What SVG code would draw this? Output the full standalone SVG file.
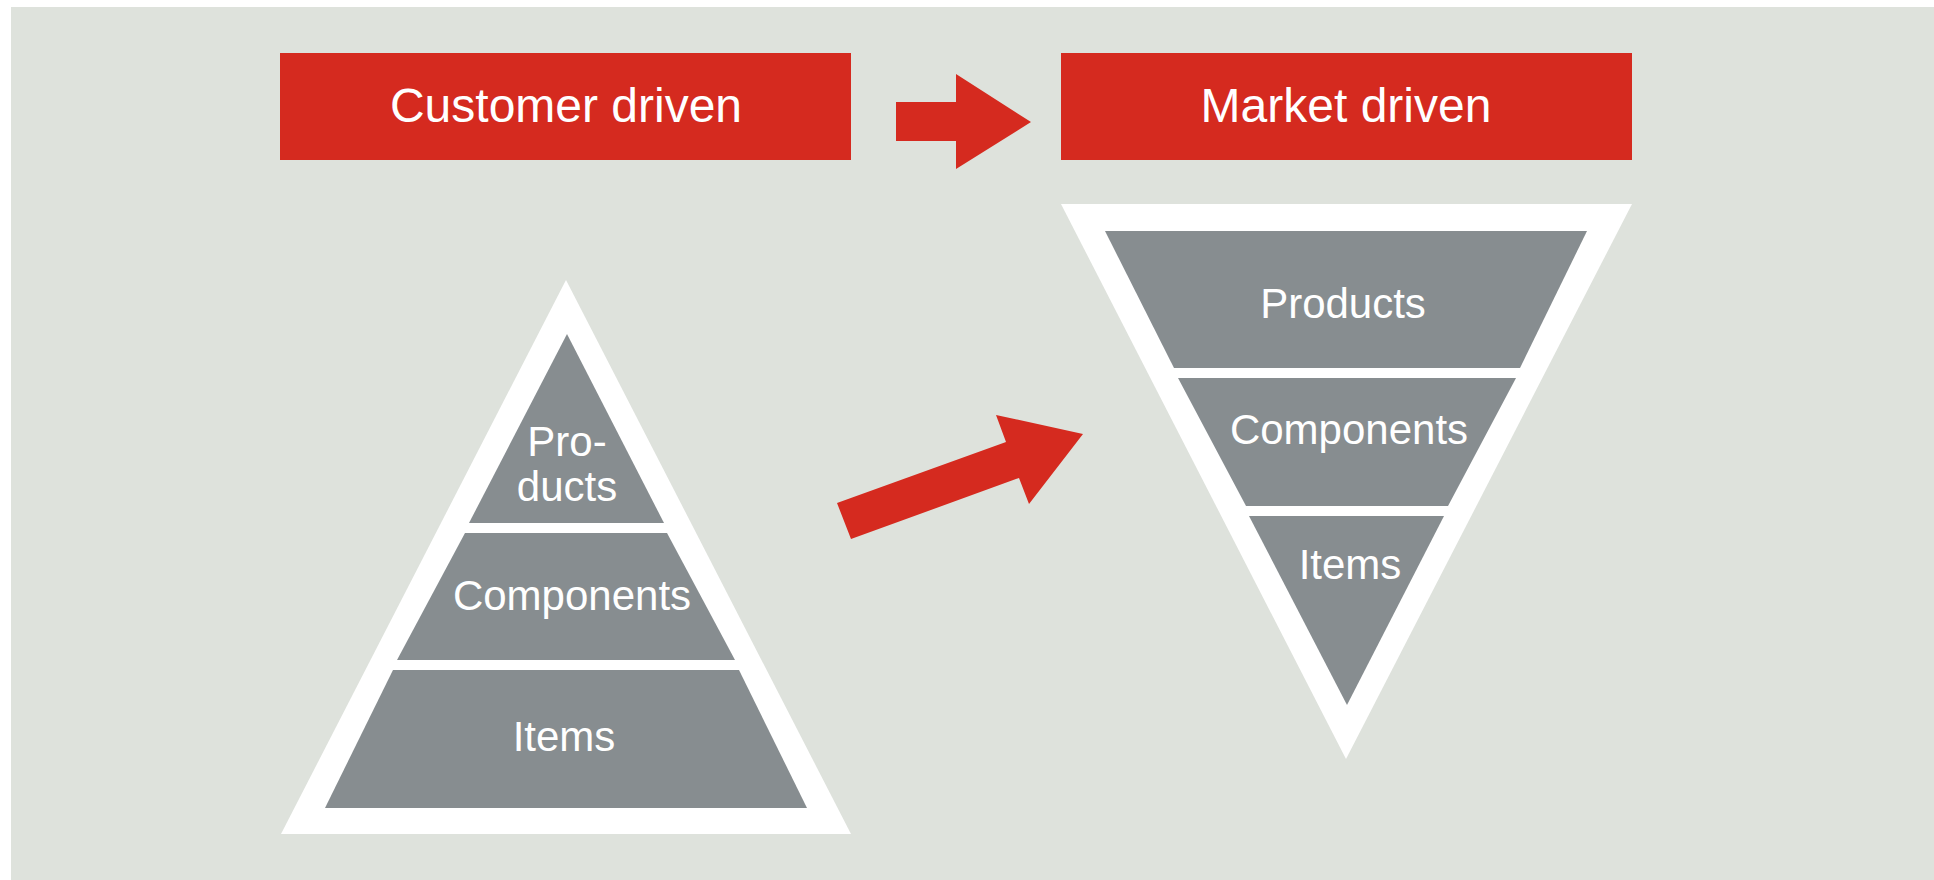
<svg xmlns="http://www.w3.org/2000/svg" width="1934" height="880" viewBox="0 0 1934 880">
<style>
.hdr{fill:#d52a1f}
.hdrt{font-family:"Liberation Sans",Arial,sans-serif;font-size:48px;fill:#ffffff;text-anchor:middle}
.frame{fill:#ffffff}
.band{fill:#878d90}
.lbl{font-family:"Liberation Sans",Arial,sans-serif;font-size:42px;fill:#ffffff;text-anchor:middle}
.arrow{fill:#d52a1f}
</style>
<rect x="0" y="0" width="1934" height="880" fill="#ffffff"/>
<rect x="11" y="7" width="1923" height="873" fill="#dee2dc"/>
<g id="customer-driven">
<rect class="hdr" x="280" y="53" width="571" height="107"/>
<text class="hdrt" x="566" y="122">Customer driven</text>
</g>
<g id="market-driven">
<rect class="hdr" x="1061" y="53" width="571" height="107"/>
<text class="hdrt" x="1346" y="122">Market driven</text>
</g>
<g id="pyramid">
<polygon class="frame" points="566,280 851,834 281,834"/>
<polygon class="band" points="567,334 664,523 469,523"/>
<polygon class="band" points="465,533 667,533 735,660 397,660"/>
<polygon class="band" points="393,670 739,670 807,808 325,808"/>
<text class="lbl" x="567" y="456">Pro-</text>
<text class="lbl" x="567" y="501">ducts</text>
<text class="lbl" x="572" y="610">Components</text>
<text class="lbl" x="564" y="751">Items</text>
</g>
<g id="funnel">
<polygon class="frame" points="1061,204 1632,204 1346,759"/>
<polygon class="band" points="1105,231 1587,231 1520,368 1174,368"/>
<polygon class="band" points="1178,378 1516,378 1448,506 1246,506"/>
<polygon class="band" points="1249,516 1444,516 1347,705"/>
<text class="lbl" x="1343" y="318">Products</text>
<text class="lbl" x="1349" y="444">Components</text>
<text class="lbl" x="1350" y="579">Items</text>
</g>
<g id="connectors">
<polygon class="arrow" points="896,102 956,102 956,74 1031,122 956,169 956,141 896,141"/>
<polygon class="arrow" points="837,503 1006,442 996,415 1083,434 1029,504 1019,478 851,539"/>
</g>
</svg>
